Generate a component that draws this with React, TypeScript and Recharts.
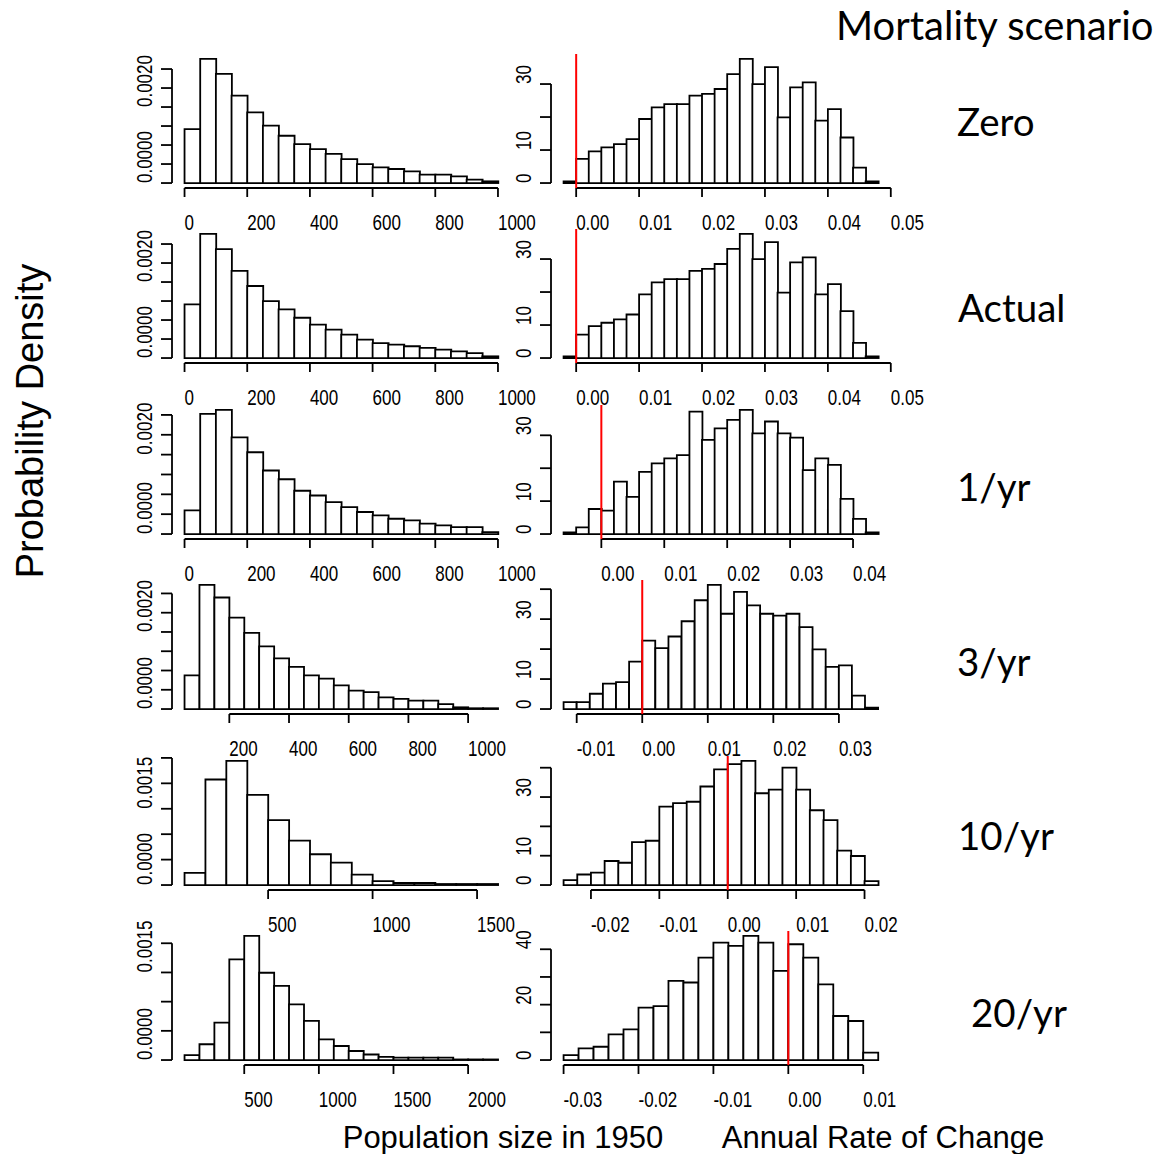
import { Bar, BarChart, ReferenceLine, XAxis, YAxis } from "recharts";

const SCENARIOS = ["Zero", "Actual", "1/yr", "3/yr", "10/yr", "20/yr"];

// population size in 1950 (probability density per bin)
const POP_ZERO = [0.00142, 0.003265, 0.00287, 0.0023, 0.00186, 0.00151, 0.001245, 0.001025, 0.000895, 0.000765, 0.00063, 0.0005, 0.00041, 0.00037, 0.000305, 0.00022, 0.00022, 0.000175, 0.00009, 0.000045];
const POP_ACTUAL = [0.00141, 0.003265, 0.002865, 0.002295, 0.001895, 0.0015, 0.00128, 0.00106, 0.00088, 0.00075, 0.000615, 0.000485, 0.000395, 0.000355, 0.00031, 0.000265, 0.00022, 0.000175, 0.00013, 0.000045];
const POP_1YR = [0.000595, 0.003025, 0.003125, 0.002435, 0.00206, 0.0016, 0.00138, 0.00109, 0.00097, 0.000805, 0.00068, 0.000555, 0.00047, 0.000385, 0.000345, 0.00026, 0.00022, 0.000175, 0.000175, 0.00005];
const POP_3YR = [0.000875, 0.00322, 0.002895, 0.00237, 0.001975, 0.001625, 0.001315, 0.001095, 0.000875, 0.00079, 0.000615, 0.00048, 0.00044, 0.000305, 0.000265, 0.00022, 0.00022, 0.00013, 0.000045, 0.00002, 0.00002];
const POP_10YR = [0.00024, 0.002075, 0.00244, 0.001775, 0.001275, 0.000875, 0.000605, 0.00044, 0.000205, 0.000075, 0.00004, 0.00004, 0.00002, 0.00002, 0.00002];
const POP_20YR = [0.000085, 0.00027, 0.00064, 0.001725, 0.002125, 0.001495, 0.00127, 0.000955, 0.00067, 0.000355, 0.00024, 0.000155, 0.000095, 0.000055, 0.00004, 0.00004, 0.00004, 0.00004, 0.00001, 0.00001, 0.00001];
const POP_START = [0, 0, 0, 50, 100, 100];
const POP_STEP = [50, 50, 50, 50, 100, 100];
const POP_X_TICKS = [
  [0, 200, 400, 600, 800, 1000],
  [0, 200, 400, 600, 800, 1000],
  [0, 200, 400, 600, 800, 1000],
  [200, 400, 600, 800, 1000],
  [500, 1000, 1500],
  [500, 1000, 1500, 2000],
];
const POP_Y_TICKS_A = [0, 0.0005, 0.001, 0.0015, 0.002, 0.0025, 0.003];
const POP_Y_LABELS_A = ["0.0000", "", "", "", "0.0020", "", ""];
const POP_Y_TICKS_B = [0, 0.0005, 0.001, 0.0015, 0.002, 0.0025];
const POP_Y_LABELS_B = ["0.0000", "", "", "0.0015", "", ""];
const POP_Y_TICKS_C = [0, 0.0005, 0.001, 0.0015, 0.002];
const POP_Y_LABELS_C = ["0.0000", "", "", "0.0015", ""];

// annual rate of change (probability density per 0.002 bin)
const RATE_ZERO = [0.5, 7.3, 9.6, 10.8, 11.8, 13.3, 19.4, 22.9, 23.9, 23.9, 26.5, 27.0, 28.5, 33.0, 37.6, 30.0, 35.1, 19.9, 29.0, 30.5, 18.9, 22.4, 13.8, 4.7, 0.5];
const RATE_ACTUAL = [0.5, 7.1, 9.7, 10.7, 11.7, 13.2, 19.3, 22.9, 23.9, 23.9, 26.4, 27.0, 28.5, 33.1, 37.6, 30.0, 35.1, 19.8, 29.0, 30.5, 19.3, 22.4, 14.2, 4.6, 0.5];
const RATE_1YR = [0.5, 2.0, 7.6, 7.1, 15.9, 11.3, 18.9, 21.5, 23.0, 24.0, 37.2, 28.6, 32.1, 34.7, 37.7, 30.6, 34.2, 30.6, 29.3, 19.4, 23.0, 21.0, 10.7, 4.6, 0.5];
const RATE_3YR = [2.3, 2.3, 5.1, 8.5, 9.0, 15.8, 22.8, 20.3, 24.2, 29.3, 36.3, 41.4, 31.8, 39.1, 34.6, 31.8, 31.2, 31.8, 27.3, 19.9, 14.1, 14.6, 4.5, 0.5];
const RATE_10YR = [1.7, 3.6, 4.2, 8.2, 7.6, 14.6, 15.1, 26.7, 27.9, 28.4, 33.6, 39.4, 41.2, 42.3, 31.3, 32.5, 40.0, 32.5, 25.5, 22.1, 11.7, 9.9, 1.3];
const RATE_20YR = [1.8, 4.2, 4.8, 9.3, 11.1, 18.9, 19.5, 28.6, 28.0, 37.0, 42.4, 41.2, 44.8, 42.4, 32.2, 41.8, 37.0, 27.3, 15.9, 14.1, 2.7];
const RATE_START = [-0.002, -0.002, -0.006, -0.012, -0.024, -0.03];
const RATE_STEP = 0.002;
const RATE_X_TICKS = [
  [0, 0.01, 0.02, 0.03, 0.04, 0.05],
  [0, 0.01, 0.02, 0.03, 0.04, 0.05],
  [0, 0.01, 0.02, 0.03, 0.04],
  [-0.01, 0, 0.01, 0.02, 0.03],
  [-0.02, -0.01, 0, 0.01, 0.02],
  [-0.03, -0.02, -0.01, 0, 0.01],
];
const RATE_Y_TICKS_A = [0, 10, 20, 30];
const RATE_Y_LABELS_A = ["0", "10", "", "30"];
const RATE_Y_TICKS_B = [0, 10, 20, 30, 40];
const RATE_Y_LABELS_B = ["0", "10", "", "30", ""];
const RATE_Y_LABELS_C = ["0", "", "20", "", "40"];
const RED_LINE = 0;

// layout
const ROW_TOP = 54;
const ROW_STEP = 175.4;
const PLOT_H = 134;
const MT = 20;
const MB = 59;
const ML = 49;
const MR = 60;
const COLS = {
  pop: { left: 171.8, width: 338.5 },
  rate: { left: 550.8, width: 339.8 },
};
const LABEL_POS = [
  [957, 121],
  [958, 307],
  [957, 486],
  [957, 661],
  [958, 835],
  [971, 1012],
];
const FONT = "'Liberation Sans', Arial, sans-serif";
const LW = 1.8;

const r9 = (v: number) => Math.round(v * 1e9) / 1e9;

interface HistProps {
  row: number;
  col: "pop" | "rate";
  values: number[];
  start: number;
  step: number;
  xTicks: number[];
  yTicks: number[];
  yLabels: string[];
  fmt: (v: number) => string;
  red?: number;
}

function Hist({ row, col, values, start, step, xTicks, yTicks, yLabels, fmt, red }: HistProps) {
  const geo = COLS[col];
  const end = start + values.length * step;
  const span = end - start;
  const m = Math.max(...values);
  const yLo = -0.04 * m;
  const yHi = 1.04 * m;
  const xLo = r9(start - 0.04 * span);
  const xHi = r9(end + 0.04 * span);
  const pad = (geo.width * 0.04) / 1.08;
  const data = values.map((v, i) => ({ bin: i, mid: r9(start + (i + 0.5) * step), v }));
  const top = ROW_TOP + row * ROW_STEP;
  const plotLeft = ML + 1;
  const axisY = MT + PLOT_H;

  const xTick = (p: any) => {
    const x = p.x;
    return (
      <g>
        <line x1={x} x2={x} y1={axisY} y2={axisY + 9} stroke="#000" strokeWidth={LW} />
        <text
          transform={`translate(${x},${axisY + 34}) scale(1,1.3)`}
          textAnchor="start"
          dominantBaseline="central"
          fontSize={17}
          fontFamily={FONT}
          fill="#000"
        >
          {fmt(p.payload.value)}
        </text>
      </g>
    );
  };

  const yTick = (p: any) => {
    const y = p.y;
    const label = yLabels[yTicks.indexOf(p.payload.value)];
    return (
      <g>
        <line x1={plotLeft - 11} x2={plotLeft} y1={y} y2={y} stroke="#000" strokeWidth={LW} />
        {label ? (
          <text
            transform={`translate(${plotLeft - 28},${y}) rotate(-90) scale(1,1.3)`}
            textAnchor="start"
            dominantBaseline="central"
            fontSize={17}
            fontFamily={FONT}
            fill="#000"
          >
            {label}
          </text>
        ) : null}
      </g>
    );
  };

  return (
    <div style={{ position: "absolute", left: geo.left - plotLeft, top: top - MT }}>
      <BarChart
        width={plotLeft + geo.width + MR}
        height={MT + PLOT_H + 1 + MB}
        data={data}
        margin={{ top: MT, right: MR, bottom: MB, left: ML }}
        barCategoryGap={0}
        barGap={0}
      >
        <XAxis xAxisId="bins" dataKey="bin" type="category" hide padding={{ left: pad, right: pad }} />
        <XAxis
          xAxisId="val"
          dataKey="mid"
          type="number"
          domain={[xLo, xHi]}
          allowDataOverflow
          ticks={xTicks}
          interval={0}
          height={1}
          axisLine={false}
          tickLine={false}
          tick={xTick}
        />
        <YAxis
          type="number"
          domain={[yLo, yHi]}
          allowDataOverflow
          ticks={yTicks}
          interval={0}
          width={1}
          axisLine={false}
          tickLine={false}
          tick={yTick}
        />
        <Bar xAxisId="bins" dataKey="v" fill="#fff" stroke="#000" strokeWidth={LW} isAnimationActive={false} />
        <ReferenceLine
          xAxisId="val"
          segment={[{ x: xLo, y: 0 }, { x: xLo, y: yTicks[yTicks.length - 1] }]}
          stroke="#000"
          strokeWidth={LW}
          ifOverflow="visible"
        />
        <ReferenceLine
          xAxisId="val"
          segment={[{ x: xTicks[0], y: yLo }, { x: xTicks[xTicks.length - 1], y: yLo }]}
          stroke="#000"
          strokeWidth={LW}
          ifOverflow="visible"
        />
        {red !== undefined && (
          <ReferenceLine xAxisId="val" x={red} stroke="#ff0000" strokeWidth={2} ifOverflow="visible" />
        )}
      </BarChart>
    </div>
  );
}

const POP_SERIES = [POP_ZERO, POP_ACTUAL, POP_1YR, POP_3YR, POP_10YR, POP_20YR];
const RATE_SERIES = [RATE_ZERO, RATE_ACTUAL, RATE_1YR, RATE_3YR, RATE_10YR, RATE_20YR];

export default function App() {
  return (
    <div style={{ position: "absolute", left: 0, top: 0, width: 1159, height: 1154, background: "#fff", overflow: "hidden" }}>
      {SCENARIOS.map((name, i) => {
        const popY = i < 4 ? POP_Y_TICKS_A : i === 4 ? POP_Y_TICKS_B : POP_Y_TICKS_C;
        const popL = i < 4 ? POP_Y_LABELS_A : i === 4 ? POP_Y_LABELS_B : POP_Y_LABELS_C;
        const rateY = i < 3 ? RATE_Y_TICKS_A : RATE_Y_TICKS_B;
        const rateL = i < 3 ? RATE_Y_LABELS_A : i < 5 ? RATE_Y_LABELS_B : RATE_Y_LABELS_C;
        return (
          <div key={name}>
            <Hist
              row={i}
              col="pop"
              values={POP_SERIES[i]}
              start={POP_START[i]}
              step={POP_STEP[i]}
              xTicks={POP_X_TICKS[i]}
              yTicks={popY}
              yLabels={popL}
              fmt={(v) => String(v)}
            />
            <Hist
              row={i}
              col="rate"
              values={RATE_SERIES[i]}
              start={RATE_START[i]}
              step={RATE_STEP}
              xTicks={RATE_X_TICKS[i]}
              yTicks={rateY}
              yLabels={rateL}
              fmt={(v) => v.toFixed(2)}
              red={RED_LINE}
            />
          </div>
        );
      })}
      <svg width={1159} height={1154} style={{ position: "absolute", left: 0, top: 0, pointerEvents: "none" }}>
        <text x={836} y={25} dominantBaseline="central" fontSize={40} fontFamily="Lato, sans-serif" fill="#000">
          Mortality scenario
        </text>
        {SCENARIOS.map((name, i) => (
          <text
            key={name}
            x={LABEL_POS[i][0]}
            y={LABEL_POS[i][1]}
            dominantBaseline="central"
            fontSize={38.5}
            fontFamily="Lato, sans-serif"
            fill="#000"
          >
            {name}
          </text>
        ))}
        <text
          transform="translate(30,421) rotate(-90)"
          textAnchor="middle"
          dominantBaseline="central"
          fontSize={38}
          fontFamily={FONT}
          fill="#000"
        >
          Probability Density
        </text>
        <text x={503} y={1137} textAnchor="middle" dominantBaseline="central" fontSize={31} fontFamily={FONT} fill="#000">
          Population size in 1950
        </text>
        <text x={883} y={1137} textAnchor="middle" dominantBaseline="central" fontSize={31} fontFamily={FONT} fill="#000">
          Annual Rate of Change
        </text>
      </svg>
    </div>
  );
}
